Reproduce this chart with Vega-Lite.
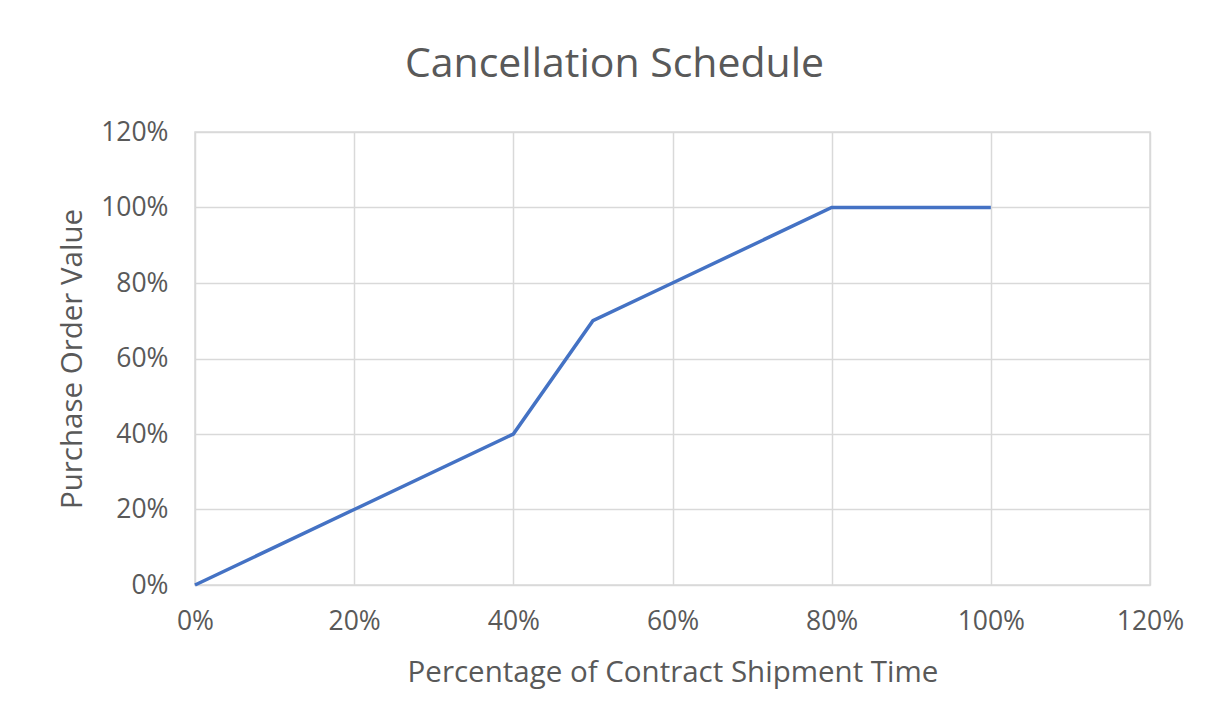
{
  "$schema": "https://vega.github.io/schema/vega-lite/v6.json",
  "width": 955,
  "height": 453,
  "autosize": "none",
  "padding": {"left": 195, "top": 132, "right": 65, "bottom": 143},
  "background": "white",
  "title": {
    "text": "Cancellation Schedule",
    "font": "Open Sans",
    "fontSize": 41,
    "fontWeight": "normal",
    "color": "#595959",
    "anchor": "middle",
    "dx": -58,
    "offset": 33
  },
  "data": {
    "values": [
      {"time": 0, "value": 0},
      {"time": 0.2, "value": 0.2},
      {"time": 0.4, "value": 0.4},
      {"time": 0.5, "value": 0.7},
      {"time": 0.6, "value": 0.8},
      {"time": 0.8, "value": 1.0},
      {"time": 1.0, "value": 1.0}
    ]
  },
  "mark": {"type": "line", "color": "#4472c4", "strokeWidth": 3.5},
  "encoding": {
    "x": {
      "field": "time",
      "type": "quantitative",
      "scale": {"domain": [0, 1.2], "nice": false, "zero": false},
      "axis": {
        "title": "Percentage of Contract Shipment Time",
        "values": [0, 0.2, 0.4, 0.6, 0.8, 1.0, 1.2],
        "format": ".0%",
        "labelFlush": false,
        "labelPadding": 23,
        "titlePadding": 24
      }
    },
    "y": {
      "field": "value",
      "type": "quantitative",
      "scale": {"domain": [0, 1.2], "nice": false, "zero": false},
      "axis": {
        "title": "Purchase Order Value",
        "values": [0, 0.2, 0.4, 0.6, 0.8, 1.0, 1.2],
        "format": ".0%",
        "labelFlush": false,
        "labelPadding": 27,
        "titlePadding": 13
      }
    }
  },
  "config": {
    "view": {"stroke": "#d9d9d9", "strokeWidth": 1.5},
    "axis": {
      "domain": false,
      "ticks": false,
      "grid": true,
      "gridColor": "#d9d9d9",
      "gridWidth": 1.5,
      "labelFont": "Open Sans",
      "labelFontSize": 26.5,
      "labelColor": "#595959",
      "titleFont": "Open Sans",
      "titleFontSize": 29.5,
      "titleFontWeight": "normal",
      "titleColor": "#595959"
    }
  }
}
